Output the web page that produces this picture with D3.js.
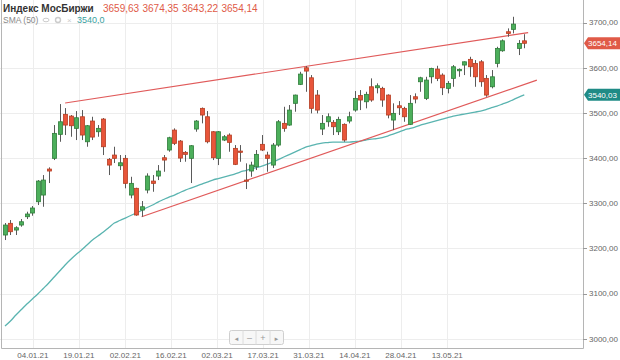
<!DOCTYPE html>
<html>
<head>
<meta charset="utf-8">
<script src="https://cdn.jsdelivr.net/npm/d3@7"></script>
<style>
  body { margin: 0; background: #fff; }
  text { font-family: Arial, "Liberation Sans", sans-serif; }
</style>
</head>
<body>
<div id="content"></div>
<script>
// Screen dimensions
var w = 620;
var h = 360;
var plotRight = 583;
var plotBottom = 348;

// Candles (one per trading day)
var open = [3229.6, 3255.5, 3240.6, 3251.7, 3270.1, 3278.3, 3303.3, 3318.1, 3375.7, 3399.4,
  3452.5, 3496.8, 3493.0, 3465.8, 3491.5, 3436.1, 3482.0, 3458.3, 3486.4, 3397.2,
  3406.7, 3383.0, 3399.4, 3318.1, 3333.0, 3284.9, 3329.2, 3349.1, 3360.2, 3400.7,
  3417.8, 3462.0, 3437.7, 3412.7, 3399.4, 3464.3, 3510.1, 3491.5, 3458.3, 3399.4,
  3439.9, 3451.0, 3421.5, 3415.5, 3351.3, 3371.3, 3380.8, 3430.4, 3406.7, 3384.5,
  3428.8, 3476.9, 3473.1, 3521.2, 3563.2, 3600.0, 3577.8, 3539.5, 3464.3, 3480.4,
  3479.1, 3458.3, 3474.7, 3482.0, 3506.3, 3538.4, 3524.7, 3557.9, 3555.7, 3554.4,
  3539.5, 3484.2, 3515.8, 3510.1, 3474.7, 3535.8, 3569.0, 3532.2, 3580.0, 3597.1,
  3583.8, 3554.4, 3576.5, 3593.3, 3606.0, 3618.6, 3609.7, 3613.2, 3576.5, 3557.9,
  3609.7, 3637.6, 3679.7, 3685.0, 3642.9, 3659.63];
var high = [3256.2, 3262.8, 3249.0, 3265.0, 3281.2, 3293.8, 3351.3, 3362.4, 3379.5, 3473.1,
  3519.6, 3510.7, 3495.3, 3504.1, 3506.3, 3473.1, 3491.5, 3473.1, 3488.6, 3400.0,
  3425.1, 3406.7, 3406.7, 3358.6, 3334.3, 3304.9, 3366.2, 3362.4, 3384.5, 3406.7,
  3447.2, 3465.8, 3439.9, 3415.5, 3428.8, 3484.2, 3512.0, 3504.1, 3459.8, 3459.8,
  3451.0, 3454.7, 3428.8, 3428.8, 3388.3, 3391.9, 3417.8, 3451.0, 3414.0, 3433.3,
  3484.2, 3513.6, 3517.4, 3540.5, 3591.1, 3603.7, 3583.8, 3550.6, 3495.3, 3499.0,
  3484.2, 3491.5, 3476.9, 3502.6, 3548.4, 3550.6, 3546.8, 3576.5, 3565.4, 3557.9,
  3541.1, 3521.2, 3526.2, 3513.6, 3539.5, 3543.3, 3580.0, 3580.0, 3600.0, 3604.4,
  3587.6, 3570.5, 3606.0, 3598.6, 3614.0, 3624.3, 3617.0, 3617.0, 3583.8, 3594.9,
  3646.5, 3662.8, 3687.2, 3712.9, 3661.3, 3674.35];
var low = [3218.5, 3229.6, 3229.6, 3248.0, 3265.0, 3272.3, 3296.0, 3292.2, 3344.7, 3395.6,
  3436.1, 3451.0, 3447.2, 3439.9, 3439.9, 3425.1, 3439.9, 3447.2, 3406.7, 3362.4,
  3389.0, 3373.5, 3333.0, 3310.8, 3272.3, 3270.1, 3321.9, 3325.4, 3351.3, 3369.7,
  3414.0, 3428.8, 3391.2, 3391.9, 3344.7, 3458.3, 3476.9, 3432.6, 3395.6, 3384.5,
  3437.7, 3414.0, 3384.5, 3391.9, 3331.4, 3358.6, 3373.5, 3415.5, 3369.7, 3377.9,
  3425.1, 3458.3, 3471.6, 3502.6, 3561.7, 3546.8, 3499.0, 3499.0, 3451.0, 3469.4,
  3451.0, 3451.0, 3436.1, 3476.9, 3502.6, 3506.3, 3510.1, 3524.7, 3543.3, 3513.6,
  3488.0, 3462.0, 3495.3, 3480.4, 3473.1, 3521.2, 3546.8, 3528.5, 3565.4, 3570.5,
  3539.5, 3543.3, 3557.9, 3580.0, 3583.8, 3580.0, 3557.9, 3557.9, 3535.8, 3554.4,
  3600.9, 3635.4, 3668.6, 3676.1, 3628.1, 3643.22];
var close = [3251.7, 3236.9, 3245.7, 3259.0, 3276.1, 3289.4, 3349.1, 3351.3, 3371.3, 3454.7,
  3480.4, 3473.1, 3471.6, 3489.3, 3451.0, 3471.6, 3446.5, 3465.8, 3425.1, 3384.5,
  3399.4, 3389.6, 3344.0, 3344.0, 3273.9, 3292.2, 3360.2, 3344.0, 3371.3, 3395.6,
  3445.0, 3432.6, 3400.0, 3408.2, 3427.3, 3482.0, 3495.3, 3436.1, 3400.7, 3458.3,
  3447.2, 3434.8, 3386.1, 3412.7, 3349.1, 3384.5, 3408.2, 3417.8, 3399.4, 3428.8,
  3480.4, 3465.8, 3506.3, 3539.5, 3586.0, 3592.6, 3510.1, 3506.3, 3476.9, 3491.5,
  3469.4, 3485.7, 3439.9, 3491.5, 3532.2, 3528.5, 3541.1, 3528.5, 3560.1, 3528.5,
  3495.3, 3499.0, 3511.4, 3491.5, 3521.2, 3530.7, 3577.8, 3572.7, 3598.6, 3576.5,
  3555.7, 3565.4, 3602.2, 3596.4, 3613.2, 3602.2, 3580.0, 3569.0, 3539.5, 3580.0,
  3642.9, 3659.7, 3676.1, 3696.7, 3654.0, 3654.14];

// SMA (50)
var sma = [3028.1, 3039.2, 3052.5, 3064.6, 3076.8, 3087.9, 3099.0, 3111.1, 3123.3, 3136.6,
  3149.9, 3163.2, 3175.3, 3186.4, 3196.4, 3207.4, 3218.5, 3227.4, 3236.2, 3246.2,
  3256.2, 3261.7, 3267.2, 3272.8, 3278.3, 3283.8, 3290.5, 3296.0, 3302.6, 3308.2,
  3313.7, 3318.1, 3323.7, 3329.2, 3333.6, 3338.1, 3342.5, 3346.9, 3351.4, 3354.7,
  3358.0, 3361.3, 3364.6, 3369.0, 3372.4, 3375.7, 3379.0, 3382.3, 3386.8, 3391.2,
  3396.7, 3402.3, 3407.8, 3413.3, 3418.9, 3424.4, 3427.7, 3431.0, 3433.3, 3434.4,
  3435.5, 3435.5, 3435.5, 3435.5, 3436.6, 3437.7, 3439.9, 3442.1, 3443.2, 3445.4,
  3448.8, 3453.2, 3457.6, 3462.0, 3465.4, 3468.7, 3473.1, 3476.4, 3479.8, 3483.1,
  3486.4, 3489.7, 3493.0, 3495.3, 3497.5, 3499.7, 3501.9, 3504.1, 3507.4, 3511.9,
  3515.2, 3519.6, 3524.0, 3529.6, 3535.1, 3540.03];

// Trend lines: [candle index, price]
var upperTrend = [[11, 3522.0], [95.7, 3677.9]];
var lowerTrend = [[25, 3270.1], [97.3, 3572.7]];

// Axis labels
var yTicks = [3000, 3100, 3200, 3300, 3400, 3500, 3600, 3700];
var xTickLabels = ["04.01.21", "19.01.21", "02.02.21", "16.02.21", "02.03.21",
  "17.03.21", "31.03.21", "14.04.21", "28.04.21", "13.05.21"];
var xTickIndex = [5.1, 13.5, 22.0, 30.4, 38.8, 47.2, 55.6, 64.0, 72.4, 80.9];

var title = "Индекс МосБиржи";
var smaLabel = "SMA (50)";

var ru = d3.formatLocale({decimal: ",", thousands: "", grouping: [3], currency: ["", ""]});
var fmt2 = ru.format(".2f");
var fmt1 = ru.format(".1f");

var candles = open.map(function(o, i) {
  return {i: i, o: o, h: high[i], l: low[i], c: close[i]};
});

// Scales
var x = d3.scaleLinear().domain([0, 95]).range([5, 524.3]);
var y = d3.scaleLinear().domain([3000, 3700]).range([338.7, 22.6]);

var svg = d3.select("#content")
  .append("svg")
  .attr("width", w)
  .attr("height", h);

svg.append("rect")
  .attr("width", w)
  .attr("height", h)
  .attr("fill", "#fff");

// Grid
svg.append("g").selectAll("line")
  .data(yTicks)
  .enter().append("line")
  .attr("x1", 0).attr("x2", plotRight)
  .attr("y1", function(d) { return Math.round(y(d)) + 0.5; })
  .attr("y2", function(d) { return Math.round(y(d)) + 0.5; })
  .attr("stroke", "#ededed");
svg.append("g").selectAll("line")
  .data(xTickIndex)
  .enter().append("line")
  .attr("y1", 0).attr("y2", plotBottom)
  .attr("x1", function(d) { return Math.round(x(d)) + 0.5; })
  .attr("x2", function(d) { return Math.round(x(d)) + 0.5; })
  .attr("stroke", "#ededed");

// Frame
svg.append("path")
  .attr("d", "M1.5,0V" + (plotBottom + 0.5) + "H" + (plotRight + 0.5) + "V0")
  .attr("fill", "none")
  .attr("stroke", "#b5b5b5");

// Y axis (right)
var yAxis = svg.append("g");
yAxis.selectAll("line")
  .data(yTicks)
  .enter().append("line")
  .attr("x1", plotRight).attr("x2", plotRight + 4)
  .attr("y1", function(d) { return Math.round(y(d)) + 0.5; })
  .attr("y2", function(d) { return Math.round(y(d)) + 0.5; })
  .attr("stroke", "#999");
yAxis.selectAll("text")
  .data(yTicks)
  .enter().append("text")
  .attr("x", plotRight + 6)
  .attr("y", function(d) { return y(d); })
  .attr("dy", "0.35em")
  .attr("font-size", 8)
  .attr("fill", "#666")
  .text(function(d) { return fmt2(d); });

// X axis labels
svg.append("g").selectAll("text")
  .data(xTickIndex)
  .enter().append("text")
  .attr("x", function(d) { return x(d); })
  .attr("y", 357.5)
  .attr("text-anchor", "middle")
  .attr("font-size", 8)
  .attr("fill", "#666")
  .text(function(d, i) { return xTickLabels[i]; });

// SMA line
svg.append("path")
  .datum(sma)
  .attr("fill", "none")
  .attr("stroke", "#5ab4b0")
  .attr("stroke-width", 1.3)
  .attr("d", d3.line()
    .x(function(d, i) { return x(i); })
    .y(function(d) { return y(d); })
    .curve(d3.curveMonotoneX));

// Trend lines
[upperTrend, lowerTrend].forEach(function(t) {
  svg.append("path")
    .datum(t)
    .attr("fill", "none")
    .attr("stroke", "#e05a5a")
    .attr("stroke-width", 1.2)
    .attr("d", d3.line()
      .x(function(d) { return x(d[0]); })
      .y(function(d) { return y(d[1]); }));
});

// Candles
var cg = svg.append("g").selectAll("g")
  .data(candles)
  .enter().append("g");
cg.append("line")
  .attr("x1", function(d) { return Math.round(x(d.i)) + 0.5; })
  .attr("x2", function(d) { return Math.round(x(d.i)) + 0.5; })
  .attr("y1", function(d) { return y(d.h); })
  .attr("y2", function(d) { return y(d.l); })
  .attr("stroke", "#5a5a5a");
cg.append("rect")
  .attr("x", function(d) { return Math.round(x(d.i)) - 1.5; })
  .attr("width", 4)
  .attr("y", function(d) { return y(Math.max(d.o, d.c)); })
  .attr("height", function(d) { return Math.max(1.2, Math.abs(y(d.o) - y(d.c))); })
  .attr("fill", function(d) { return d.c >= d.o ? "#4caf5b" : "#e8553a"; })
  .attr("stroke", function(d) { return d.c >= d.o ? "#2f7d3a" : "#b53e22"; })
  .attr("stroke-width", 0.8);

// Price tags
var last = candles[candles.length - 1];
function tag(value, label, color) {
  var ty = y(value);
  svg.append("path")
    .attr("d", "M" + (plotRight + 1) + "," + ty + "L" + (plotRight + 5) + "," + (ty - 6) +
      "H620V" + (ty + 6) + "H" + (plotRight + 5) + "Z")
    .attr("fill", color);
  svg.append("text")
    .attr("x", plotRight + 5)
    .attr("y", ty)
    .attr("dy", "0.35em")
    .attr("font-size", 8)
    .attr("fill", "#fff")
    .text(label);
}
tag(last.c, fmt2(last.c), "#e05a47");
tag(sma[sma.length - 1], fmt2(sma[sma.length - 1]), "#1f8b86");

// Header
svg.append("text")
  .attr("x", 3).attr("y", 12)
  .attr("font-size", 10).attr("font-weight", "bold")
  .attr("fill", "#333")
  .text(title);
svg.append("g").selectAll("text")
  .data([last.o, last.h, last.l, last.c])
  .enter().append("text")
  .attr("x", function(d, i) { return 103 + i * 39.5; })
  .attr("y", 12)
  .attr("font-size", 10)
  .attr("fill", "#e05a47")
  .text(function(d) { return fmt2(d); });
svg.append("text")
  .attr("x", 3).attr("y", 23)
  .attr("font-size", 8.5)
  .attr("fill", "#888")
  .text(smaLabel);
// little icons: eye, gear, close
svg.append("ellipse").attr("cx", 46).attr("cy", 20).attr("rx", 3).attr("ry", 1.8)
  .attr("fill", "none").attr("stroke", "#ccc");
svg.append("circle").attr("cx", 58).attr("cy", 20).attr("r", 2.5)
  .attr("fill", "none").attr("stroke", "#ccc").attr("stroke-width", 1.4);
svg.append("text").attr("x", 67).attr("y", 23).attr("font-size", 8).attr("fill", "#ccc").text("×");
svg.append("text")
  .attr("x", 77).attr("y", 23)
  .attr("font-size", 9)
  .attr("fill", "#3a9fa0")
  .text(fmt1(sma[sma.length - 1]));

// Navigation control
var nav = svg.append("g").attr("transform", "translate(229.5,330.5)");
nav.append("rect").attr("width", 54).attr("height", 14).attr("rx", 2)
  .attr("fill", "#f7f7f7").attr("stroke", "#cfcfcf");
[13.5, 26.5, 40.5].forEach(function(sx) {
  nav.append("line").attr("x1", sx).attr("x2", sx).attr("y1", 0).attr("y2", 14)
    .attr("stroke", "#dcdcdc");
});
["◄", "–", "+", "►"].forEach(function(s, i) {
  nav.append("text")
    .attr("x", [7, 20, 33.5, 47][i]).attr("y", 10)
    .attr("text-anchor", "middle")
    .attr("font-size", s === "◄" || s === "►" ? 6 : 9)
    .attr("fill", "#999")
    .text(s);
});
</script>
</body>
</html>
